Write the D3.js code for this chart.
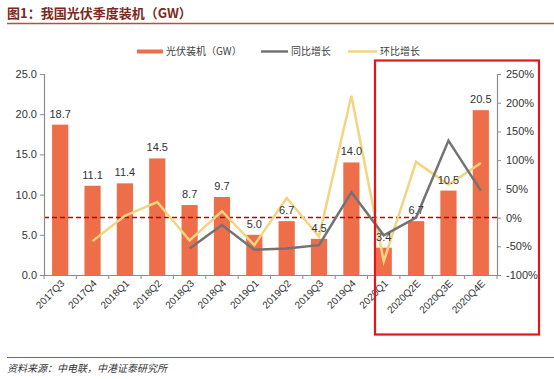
<!DOCTYPE html>
<html><head><meta charset="utf-8">
<script src="https://cdn.jsdelivr.net/npm/d3@7"></script>
<style>
html,body{margin:0;padding:0;background:#fff;}
svg{display:block;}
</style></head>
<body>
<svg id="chart" width="554" height="379"></svg>
<script>
const categories = ["2017Q3","2017Q4","2018Q1","2018Q2","2018Q3","2018Q4","2019Q1","2019Q2","2019Q3","2019Q4","2020Q1","2020Q2E","2020Q3E","2020Q4E"];
const installs = [18.7,11.1,11.4,14.5,8.7,9.7,5.0,6.7,4.5,14.0,3.4,6.7,10.5,20.5];
const yoy = [null,null,null,null,-54,-13,-56,-54,-48,44,-31,0,134,47];
const qoq = [null,-41,3,27,-40,11,-48,34,-33,212,-76,97,57,95];
const leftTicks = [0,5,10,15,20,25];
const rightTicks = [-100,-50,0,50,100,150,200,250];
const title = "图1：我国光伏季度装机（GW）";
const source = "资料来源：中电联，中港证泰研究所";
const legendNames = ["光伏装机（GW）","同比增长","环比增长"];

const svg = d3.select("#chart");
const cjk = "'Noto Sans CJK SC','Liberation Sans',sans-serif";
const lat = "'Liberation Sans',Arial,sans-serif";
const barColor = "#EE6E4A", grayColor = "#737373", yellowColor = "#F3D481";

// title
svg.append("text").attr("x",7).attr("y",18).text(title)
  .attr("font-family",cjk).attr("font-weight","bold").attr("font-size",13).attr("fill","#7A2A20");
svg.append("line").attr("x1",7).attr("x2",554).attr("y1",23.5).attr("y2",23.5)
  .attr("stroke","#B5533A").attr("stroke-width",1.5);

// scales
const x = d3.scaleBand().domain(categories).range([44,497]).paddingInner(0.5).paddingOuter(0.25);
const yL = d3.scaleLinear().domain([0,25]).range([275,74]);
const yR = d3.scaleLinear().domain([-100,250]).range([275,74]);

// bars
svg.append("g").selectAll("rect").data(installs).join("rect")
  .attr("x",(d,i)=>x(categories[i])).attr("width",x.bandwidth())
  .attr("y",d=>yL(d)).attr("height",d=>yL(0)-yL(d)).attr("fill",barColor);

// dashed zero line
svg.append("line").attr("x1",44).attr("x2",497).attr("y1",yR(0)).attr("y2",yR(0))
  .attr("stroke","#C00000").attr("stroke-width",1.5).attr("stroke-dasharray","5,3");

// lines
const cx = i => x(categories[i]) + x.bandwidth()/2;
const mk = arr => d3.line().defined(d=>d!=null).x((d,i)=>cx(i)).y(d=>yR(d))(arr);
svg.append("path").attr("d",mk(qoq)).attr("fill","none").attr("stroke",yellowColor).attr("stroke-width",2.5).attr("stroke-linejoin","miter");
svg.append("path").attr("d",mk(yoy)).attr("fill","none").attr("stroke",grayColor).attr("stroke-width",2.5).attr("stroke-linejoin","miter");

// bar labels
svg.append("g").selectAll("text").data(installs).join("text")
  .attr("x",(d,i)=>cx(i)).attr("y",d=>yL(d)-7).attr("text-anchor","middle")
  .attr("font-family",lat).attr("font-size",11).attr("fill","#333").text(d=>d.toFixed(1));

// axes
const axisColor = "#8c8c8c";
const gL = svg.append("g").attr("transform","translate(44,0)")
  .call(d3.axisLeft(yL).tickValues(leftTicks).tickFormat(d3.format(".1f")).tickSize(4).tickPadding(3));
const gR = svg.append("g").attr("transform","translate(497,0)")
  .call(d3.axisRight(yR).tickValues(rightTicks).tickFormat(d=>d+"%").tickSize(4).tickPadding(5));
const gB = svg.append("g").attr("transform","translate(0,275)")
  .call(d3.axisBottom(x).tickSize(0).tickFormat(""));
[gL,gR,gB].forEach(g=>{
  g.select(".domain").attr("stroke",axisColor).attr("stroke-width",1.2);
  g.selectAll(".tick line").attr("stroke",axisColor);
  g.selectAll("text").attr("font-family",lat).attr("font-size",11).attr("fill","#333");
});
// category boundary ticks
const bounds = d3.range(categories.length+1).map(i=>44 + i*x.step());
svg.append("g").selectAll("line").data(bounds).join("line")
  .attr("x1",d=>d).attr("x2",d=>d).attr("y1",275).attr("y2",279).attr("stroke",axisColor);

// x labels
svg.append("g").selectAll("text").data(categories).join("text")
  .attr("transform",(d,i)=>`translate(${cx(i)+5},${284}) rotate(-45)`)
  .attr("text-anchor","end").attr("font-family",lat).attr("font-size",10).attr("fill","#333").text(d=>d);

// legend
const lg = svg.append("g");
lg.append("rect").attr("x",137).attr("y",49.5).attr("width",26).attr("height",4).attr("fill",barColor);
lg.append("text").attr("x",166).attr("y",55).text(legendNames[0]);
lg.append("line").attr("x1",261).attr("x2",288).attr("y1",51.5).attr("y2",51.5).attr("stroke",grayColor).attr("stroke-width",2.5);
lg.append("text").attr("x",291).attr("y",55).text(legendNames[1]);
lg.append("line").attr("x1",348).attr("x2",377).attr("y1",51.5).attr("y2",51.5).attr("stroke",yellowColor).attr("stroke-width",2.5);
lg.append("text").attr("x",380).attr("y",55).text(legendNames[2]);
lg.selectAll("text").attr("font-family",cjk).attr("font-size",10).attr("fill","#404040");

// highlight box
svg.append("rect").attr("x",375).attr("y",60.5).attr("width",164).attr("height",274)
  .attr("fill","none").attr("stroke","#E8141C").attr("stroke-width",2.2);

// footer
svg.append("line").attr("x1",7).attr("x2",554).attr("y1",357.5).attr("y2",357.5)
  .attr("stroke","#B5533A").attr("stroke-width",1.2);
svg.append("text").attr("x",7).attr("y",372).text(source)
  .attr("font-family",cjk).attr("font-style","italic").attr("font-size",10).attr("fill","#333");
</script>
</body></html>
